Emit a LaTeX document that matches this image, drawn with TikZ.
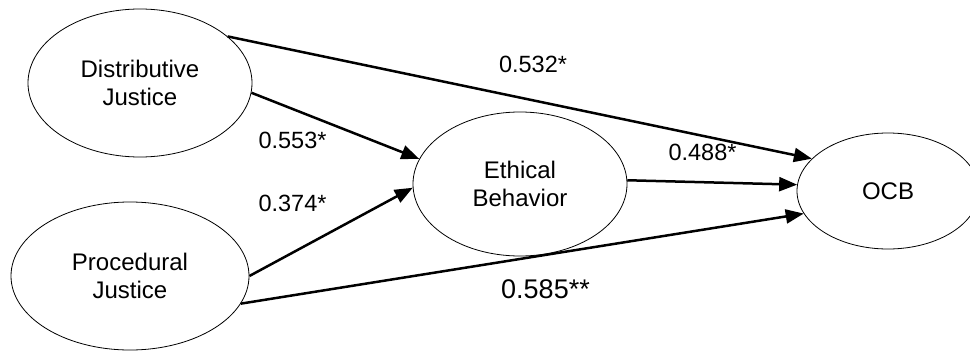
\documentclass[tikz,border=0pt]{standalone}
\usepackage{fontspec}
\setmainfont{Liberation Sans}
\usetikzlibrary{shapes.geometric,arrows.meta}
\begin{document}
\begin{tikzpicture}[x=1pt,y=-1pt,
  latent/.style={ellipse,draw=black,line width=0.8pt,inner sep=0pt,align=center,
    font=\fontsize{24}{27.5}\selectfont},
  path/.style={line width=2.5pt,-{Triangle[length=18pt,width=14pt]}},
  coef/.style={inner sep=0pt,font=\fontsize{23.5}{27}\selectfont}]
\useasboundingbox (0,0) rectangle (970,351);
\begin{scope}
\clip (0,0) rectangle (970,351);
\node[latent,minimum width=224pt,minimum height=148pt] (dj) at (140,83) {Distributive\\Justice};
\node[latent,minimum width=238pt,minimum height=148pt] (pj) at (130,276) {Procedural\\Justice};
\node[latent,minimum width=214pt,minimum height=144pt] (eb) at (520,184) {Ethical\\Behavior};
\node[latent,minimum width=182pt,minimum height=116pt] (ocb) at (888,191) {OCB};
\end{scope}
\draw[path] (dj.28) -- (ocb.157);
\draw[path] (dj.-5) -- (eb.166);
\draw[path] (pj.0) -- (eb.-178);
\draw[path] (pj.-14) -- (ocb.-165);
\draw[path] (eb.2) -- (ocb.176);
\node[coef] (c1) at (533,64.5) {0.532*};
\node[coef] (c2) at (292.5,140) {0.553*};
\node[coef] (c3) at (292.5,203.5) {0.374*};
\node[coef] (c4) at (702.5,152) {0.488*};
\node[coef,font=\fontsize{27}{31}\selectfont] (c5) at (545.5,289) {0.585**};
\end{tikzpicture}
\end{document}
